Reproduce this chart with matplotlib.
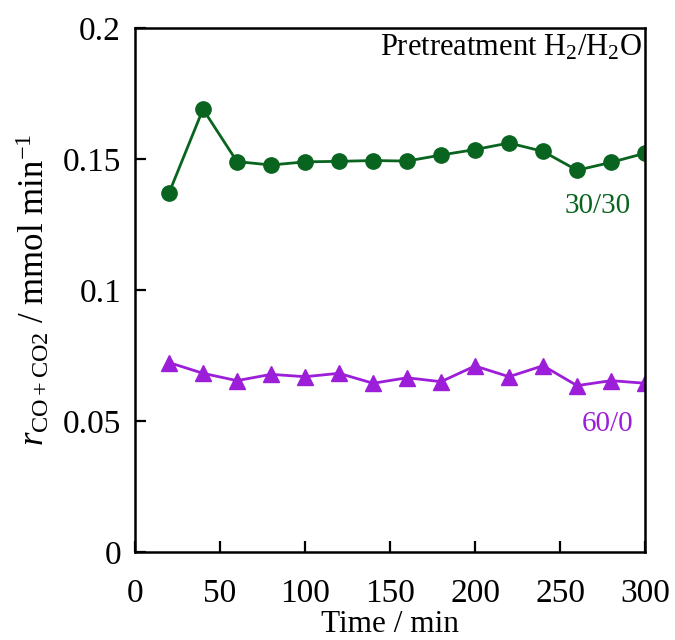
import matplotlib
matplotlib.use("Agg")
import matplotlib.pyplot as plt
from matplotlib.ticker import FuncFormatter

plt.rcParams['font.family'] = ['Liberation Serif', 'DejaVu Serif']
plt.rcParams['mathtext.fontset'] = 'custom'
plt.rcParams['mathtext.rm'] = 'Liberation Serif'
plt.rcParams['mathtext.it'] = 'Liberation Serif:italic'

# data
time = [20, 40, 60, 80, 100, 120, 140, 160, 180, 200, 220, 240, 260, 280, 300]
rate_30_30 = [0.137, 0.169, 0.149, 0.1477, 0.1489, 0.1491, 0.1494, 0.1492,
              0.1515, 0.1536, 0.1561, 0.1529, 0.1457, 0.1487, 0.1522]
rate_60_0 = [0.0723, 0.0682, 0.0654, 0.0678, 0.0669, 0.0682, 0.0644, 0.0665,
             0.0650, 0.0710, 0.0669, 0.0711, 0.0635, 0.0654, 0.0644]

green = '#08641e'
purple = '#9c1ed8'

fig = plt.figure(figsize=(6.75, 6.4), dpi=100)
ax = fig.add_axes([0.2, 0.1375, 0.7556, 0.8188])

ax.plot(time, rate_30_30, '-o', color=green, lw=2, ms=11)
ax.plot(time, rate_60_0, '-^', color=purple, lw=2, ms=12)

ax.set_xlim(0, 300)
ax.set_ylim(0, 0.2)
ax.set_xticks([0, 50, 100, 150, 200, 250, 300])
ax.set_yticks([0, 0.05, 0.1, 0.15, 0.2])
ax.yaxis.set_major_formatter(FuncFormatter(lambda v, p: '%g' % v))
ax.tick_params(axis='x', direction='in', length=8, width=1.6, labelsize=24, pad=19)
ax.tick_params(axis='y', direction='in', length=8, width=1.6, labelsize=24, pad=10)
for s in ax.spines.values():
    s.set_linewidth(1.8)

ax.set_xlabel('Time / min', fontsize=22.5, labelpad=1)
ax.set_ylabel(r'$r_{\mathrm{CO+CO2}}$ / mmol min$^{-1}$', fontsize=25, labelpad=8)

ax.text(298, 0.1925, r'Pretreatment H$_2$/H$_2$O', fontsize=22, ha='right', va='center')
ax.text(272, 0.132, '30/30', fontsize=21, color=green, ha='center', va='center')
ax.text(278, 0.049, '60/0', fontsize=21, color=purple, ha='center', va='center')

fig.savefig('out.png', dpi=100)
